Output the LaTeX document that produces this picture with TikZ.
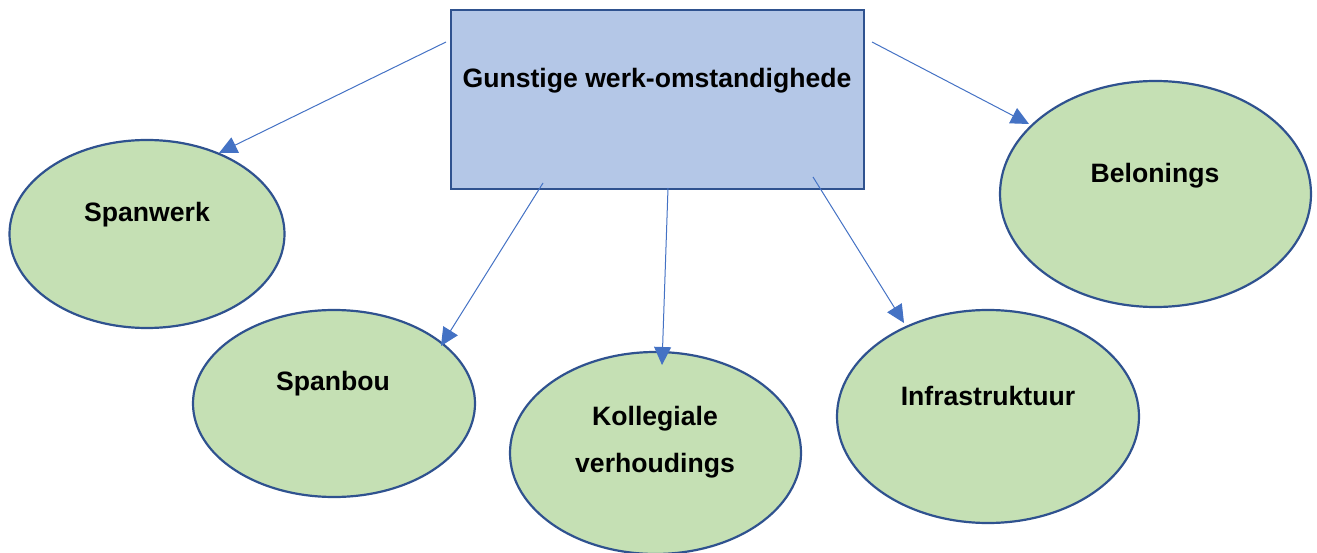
\documentclass[tikz,border=0pt]{standalone}
\usepackage{fontspec}
\setmainfont{Liberation Sans}
\usetikzlibrary{arrows.meta,shapes.geometric}
\definecolor{boxfill}{HTML}{B4C7E7}
\definecolor{ovalfill}{HTML}{C5E0B4}
\definecolor{edgeblue}{HTML}{2F528F}
\definecolor{arrowblue}{HTML}{4472C4}
\begin{document}
\begin{tikzpicture}[x=1pt,y=-1pt,
  label/.style={font=\fontsize{26.6}{32}\selectfont\bfseries, align=center},
  oval/.style={ellipse, draw=edgeblue, line width=2.2pt, fill=ovalfill},
  link/.style={draw=arrowblue, line width=1pt, -{Triangle[length=18pt,width=17pt]}}]
\useasboundingbox (0,0) rectangle (1317,553);
\begin{scope}
\clip (0,0) rectangle (1317,553);
% central box
\node[draw=edgeblue, line width=2.2pt, fill=boxfill, minimum width=413pt, minimum height=179pt, inner sep=0pt] (hub) at (657.5,99.5) {};
\node[label] (hubtxt) at (657,81) {Gunstige werk-omstandighede};
% ovals
\node[oval, minimum width=275pt, minimum height=188pt] (o1) at (147,234) {};
\node[oval, minimum width=282pt, minimum height=187pt] (o2) at (334,403.5) {};
\node[oval, minimum width=291pt, minimum height=202pt] (o3) at (655.5,453) {};
\node[oval, minimum width=302pt, minimum height=213pt] (o4) at (988,416.5) {};
\node[oval, minimum width=311pt, minimum height=226pt] (o5) at (1155.5,194) {};
\node[label] (t1) at (147,215) {Spanwerk};
\node[label] (t2) at (333,384) {Spanbou};
\node[label] (t3) at (655,442) {Kollegiale\\[15pt]verhoudings};
\node[label] (t4) at (988,396) {Infrastruktuur};
\node[label] (t5) at (1155,176) {Belonings};
% connector end points
\coordinate (s1) at (446,42);
\coordinate (s2) at (543,183);
\coordinate (s3) at (668,188);
\coordinate (s4) at (813,177);
\coordinate (s5) at (872,42);
\coordinate (e1) at (219,153);
\coordinate (e2) at (441,346);
\coordinate (e3) at (662,365);
\coordinate (e4) at (904,323);
\coordinate (e5) at (1029,124);
\draw[link] (s1) -- (e1);
\draw[link] (s2) -- (e2);
\draw[link] (s3) -- (e3);
\draw[link] (s4) -- (e4);
\draw[link] (s5) -- (e5);
\end{scope}
\end{tikzpicture}
\end{document}
